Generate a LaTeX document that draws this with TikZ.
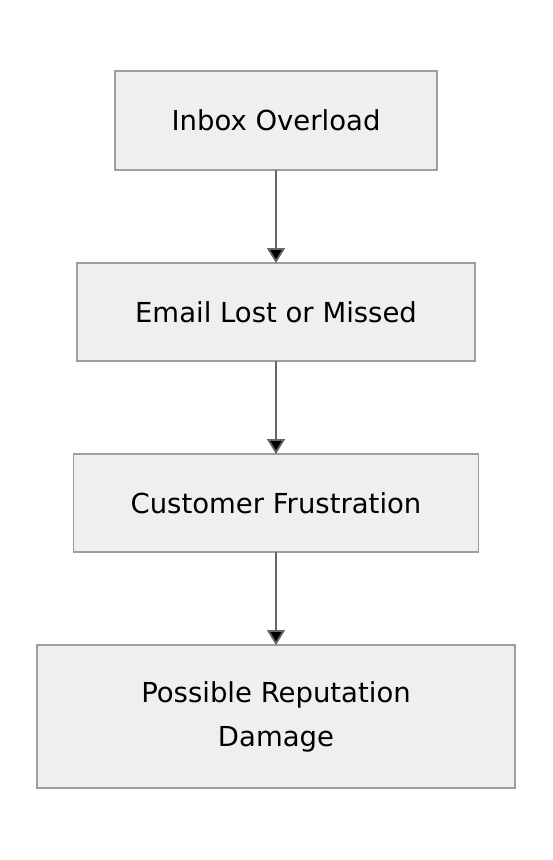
\documentclass[tikz,border=0pt]{standalone}
\usepackage{fontspec}
\setmainfont{DejaVu Sans}
\usepackage{tikz}
\usetikzlibrary{positioning,arrows.meta}

\definecolor{boxfill}{HTML}{EFEFEF}
\definecolor{boxline}{HTML}{9E9E9E}
\definecolor{flowline}{HTML}{666666}

\begin{document}
\begin{tikzpicture}[node distance=93pt,
   stage/.style={draw=boxline,fill=boxfill,line width=1.2pt,inner sep=0pt,
      outer sep=0pt,minimum height=98pt,align=center,
      font=\fontsize{27.5}{44}\selectfont},
   flow/.style={draw=flowline,line width=1.8pt,
      -{Triangle[width=18pt,length=15pt]}}]
   \useasboundingbox (0,0) rectangle (552pt,-860pt);
   \node[stage,minimum width=322pt,minimum height=99pt] (inbox) at (276pt,-120.5pt) {Inbox Overload};
   \node[stage,minimum width=398pt] (lost) [below=of inbox] {Email Lost or Missed};
   \node[stage,minimum width=405pt] (frust) [below=of lost] {Customer Frustration};
   \node[stage,minimum width=478pt,minimum height=143pt] (damage) [below=of frust]
      {Possible Reputation\\Damage};
    \path[flow]
    (inbox) edge (lost)
    (lost) edge (frust)
    (frust) edge (damage);
\end{tikzpicture}
\end{document}
